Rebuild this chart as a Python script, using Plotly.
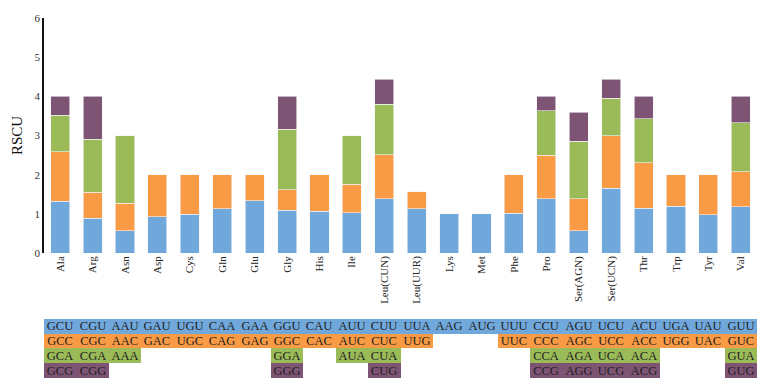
import plotly.graph_objects as go

amino_acids = ["Ala", "Arg", "Asn", "Asp", "Cys", "Gln", "Glu", "Gly", "His", "Ile",
               "Leu(CUN)", "Leu(UUR)", "Lys", "Met", "Phe", "Pro", "Ser(AGN)", "Ser(UCN)",
               "Thr", "Trp", "Tyr", "Val"]

rscu_1 = [1.32, 0.89, 0.57, 0.93, 0.99, 1.13, 1.33, 1.09, 1.06, 1.03, 1.38, 1.13, 1.00, 1.00,
          1.01, 1.38, 0.57, 1.65, 1.14, 1.20, 0.98, 1.18]
rscu_2 = [1.27, 0.66, 0.70, 1.07, 1.01, 0.87, 0.67, 0.53, 0.94, 0.72, 1.13, 0.44, None, None,
          0.99, 1.12, 0.81, 1.35, 1.17, 0.80, 1.02, 0.90]
rscu_3 = [0.93, 1.36, 1.73, None, None, None, None, 1.54, None, 1.25, 1.29, None, None, None,
          None, 1.13, 1.47, 0.95, 1.12, None, None, 1.25]
rscu_4 = [0.48, 1.09, None, None, None, None, None, 0.84, None, None, 0.63, None, None, None,
          None, 0.37, 0.75, 0.48, 0.57, None, None, 0.67]

codons_1 = ["GCU", "CGU", "AAU", "GAU", "UGU", "CAA", "GAA", "GGU", "CAU", "AUU", "CUU", "UUA",
            "AAG", "AUG", "UUU", "CCU", "AGU", "UCU", "ACU", "UGA", "UAU", "GUU"]
codons_2 = ["GCC", "CGC", "AAC", "GAC", "UGC", "CAG", "GAG", "GGC", "CAC", "AUC", "CUC", "UUG",
            "", "", "UUC", "CCC", "AGC", "UCC", "ACC", "UGG", "UAC", "GUC"]
codons_3 = ["GCA", "CGA", "AAA", "", "", "", "", "GGA", "", "AUA", "CUA", "",
            "", "", "", "CCA", "AGA", "UCA", "ACA", "", "", "GUA"]
codons_4 = ["GCG", "CGG", "", "", "", "", "", "GGG", "", "", "CUG", "",
            "", "", "", "CCG", "AGG", "UCG", "ACG", "", "", "GUG"]

colors = ["#71A8DC", "#F99A45", "#9BBB59", "#7E5474"]
serif = "Liberation Serif"

fig = go.Figure()
for vals, col in zip([rscu_1, rscu_2, rscu_3, rscu_4], colors):
    fig.add_trace(go.Bar(x=amino_acids, y=vals, marker=dict(color=col, line=dict(color="#F4F4F8", width=0.6)),
                         showlegend=False, hoverinfo="skip"))

# codon table as a heatmap on the shared category axis
codon_rows = [codons_1, codons_2, codons_3, codons_4]
z = [[(r if c else None) for c in row] for r, row in enumerate(codon_rows)]
fig.add_trace(go.Heatmap(
    x=amino_acids, y=[0, 1, 2, 3], z=z, text=codon_rows, texttemplate="%{text}",
    textfont=dict(family=serif, size=12.5, color="#1E1E1E"),
    colorscale=[[0, colors[0]], [1/3, colors[1]], [2/3, colors[2]], [1, colors[3]]],
    zmin=0, zmax=3, showscale=False, hoverinfo="skip", xgap=0, ygap=0,
    yaxis="y2"))

fig.update_layout(
    width=754, height=376,
    margin=dict(l=36, r=5, t=10, b=6),
    barmode="stack", bargap=0.41,
    plot_bgcolor="white", paper_bgcolor="white",
    font=dict(family=serif, color="#222222"),
    xaxis=dict(type="category", showline=False, showgrid=False, ticks="", tickangle=-90,
               automargin=False,
               tickfont=dict(family=serif, size=11, color="#222222"), anchor="y"),
    yaxis=dict(domain=[0.3472, 1], range=[0, 6], dtick=1, showgrid=False, zeroline=False,
               automargin=False,
               showline=True, linecolor="#111111", linewidth=1.5, ticks="",
               tickfont=dict(family=serif, size=11, color="#333333"),
               title=dict(text="RSCU", font=dict(family=serif, size=15, color="#111111"), standoff=8)),
    yaxis2=dict(domain=[0, 0.1639], range=[3.5, -0.5], showgrid=False, zeroline=False,
                automargin=False,
                showticklabels=False, showline=False, ticks=""),
)

fig.write_html("out.html")
